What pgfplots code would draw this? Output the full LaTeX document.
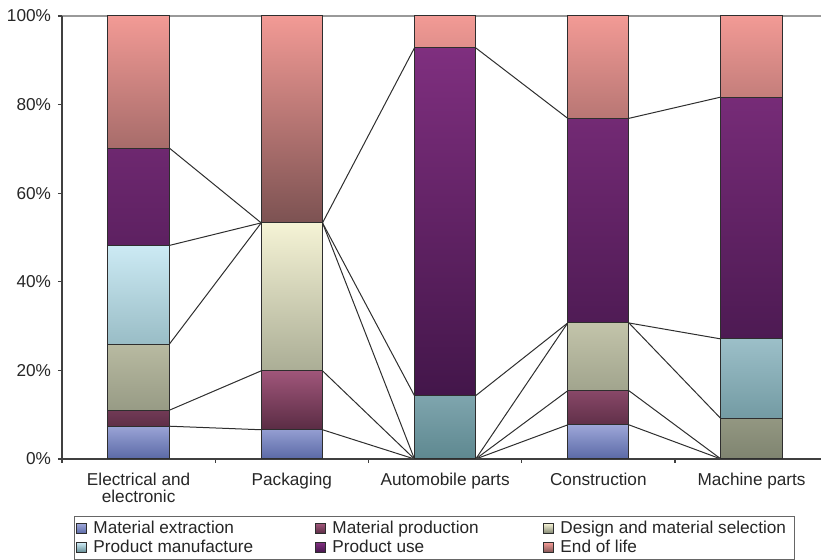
\documentclass[border=0pt]{standalone}
\usepackage{pgfplots}
\pgfplotsset{compat=1.18}
\usepackage{pgfplotstable}
\usepackage{fontspec}
\setmainfont{Liberation Sans}

\definecolor{extT}{HTML}{9DA6D8}
\definecolor{extB}{HTML}{5A69A6}
\definecolor{proT}{HTML}{A0567A}
\definecolor{proB}{HTML}{5A2C44}
\definecolor{desT}{HTML}{F5F3D5}
\definecolor{desB}{HTML}{7F8470}
\definecolor{manT}{HTML}{CCEAF4}
\definecolor{manB}{HTML}{5E8890}
\definecolor{useT}{HTML}{7F2F7F}
\definecolor{useB}{HTML}{43164A}
\definecolor{eolT}{HTML}{F29A95}
\definecolor{eolB}{HTML}{7C5252}
\definecolor{edge}{HTML}{2E2E2E}

% share of each life-cycle phase (%)
\pgfplotstableread{
x ext prod des man use eol
0 7.4 3.6 14.9 22.3 22.0 29.8
1 6.6 13.3 33.4 0 0 46.7
2 0 0 0 14.3 78.5 7.2
3 7.7 7.7 15.3 0 46.2 23.1
4 0 0 9.1 18.0 54.6 18.3
}\shares

% running totals at the bar edges, for the series lines
\pgfplotstableread{
x ext prod des man use
0.2 7.4 11.0 25.9 48.2 70.2
0.8 6.6 19.9 53.3 53.3 53.3
1.2 6.6 19.9 53.3 53.3 53.3
1.8 0 0 0 14.3 92.8
2.2 0 0 0 14.3 92.8
2.8 7.7 15.4 30.7 30.7 76.9
3.2 7.7 15.4 30.7 30.7 76.9
3.8 0 0 9.1 27.1 81.7
}\totals

\pgfplotsset{base/.style={scale only axis, width=379.5pt, height=221.5pt,
  xmin=-0.5, xmax=4.453, ymin=0, ymax=100}}

\newcommand{\colA}[1]{\makebox[108pt][l]{#1}}
\newcommand{\colB}[1]{\makebox[102.5pt][l]{#1}}

\begin{document}
\begin{tikzpicture}
\path[use as bounding box] (-31pt,-50.5pt) rectangle (379.5pt,229.5pt);

% series lines behind the bars
\begin{axis}[base, hide axis]
  \addplot[edge, line width=0.5pt] table[x=x,y=ext]{\totals};
  \addplot[edge, line width=0.5pt] table[x=x,y=prod]{\totals};
  \addplot[edge, line width=0.5pt] table[x=x,y=des]{\totals};
  \addplot[edge, line width=0.5pt] table[x=x,y=man]{\totals};
  \addplot[edge, line width=0.5pt] table[x=x,y=use]{\totals};
  \draw[black!40, line width=0.6pt] (rel axis cs:0,1) -- (rel axis cs:1,1);
\end{axis}

\begin{axis}[base,
  ybar stacked, bar width=0.4,
  axis lines*=left,
  axis line style={draw=black!75, line width=0.6pt},
  tick align=outside,
  major tick length=2pt,
  tick style={black!75, line width=0.6pt},
  ytick={0,20,...,100},
  yticklabel={\pgfmathprintnumber{\tick}\%},
  xtick={-0.5,0.5,1.5,2.5,3.5},
  xticklabels={},
  extra x ticks={0,1,2,3,4},
  extra x tick labels={{Electrical and\\electronic},Packaging,Automobile parts,Construction,Machine parts},
  extra x tick style={major tick length=0pt, xticklabel style={align=center, yshift=-3.5pt}},
  tick label style={font=\fontsize{8.6}{8.3}\selectfont, text=black!85},
  /pgf/number format/assume math mode=true,
  every axis plot/.append style={draw=edge, line width=0.5pt},
  legend columns=3,
  legend image code/.code={\draw[#1] (0pt,-2.5pt) rectangle (5pt,2.5pt);},
  legend style={at={(axis description cs:0.0158,-0.1287)}, anchor=north west,
    draw=black!60, line width=0.5pt, inner xsep=1pt, inner ysep=2pt,
    font=\fontsize{8.6}{8.3}\selectfont, text=black!85,
    column sep=0pt, row sep=1.5pt,
    cells={anchor=west},
    nodes={inner xsep=3pt, inner ysep=0pt, text height=6.3pt, text depth=1.8pt}},
]
  \addplot[top color=extT, bottom color=extB] table[x=x,y=ext]{\shares};
  \addplot[top color=proT, bottom color=proB] table[x=x,y=prod]{\shares};
  \addplot[top color=desT, bottom color=desB] table[x=x,y=des]{\shares};
  \addplot[top color=manT, bottom color=manB] table[x=x,y=man]{\shares};
  \addplot[top color=useT, bottom color=useB] table[x=x,y=use]{\shares};
  \addplot[top color=eolT, bottom color=eolB] table[x=x,y=eol]{\shares};
  \legend{\colA{Material extraction}, \colB{Material production}, Design and material selection,
    \colA{Product manufacture}, \colB{Product use}, End of life}
\end{axis}
\end{tikzpicture}
\end{document}
